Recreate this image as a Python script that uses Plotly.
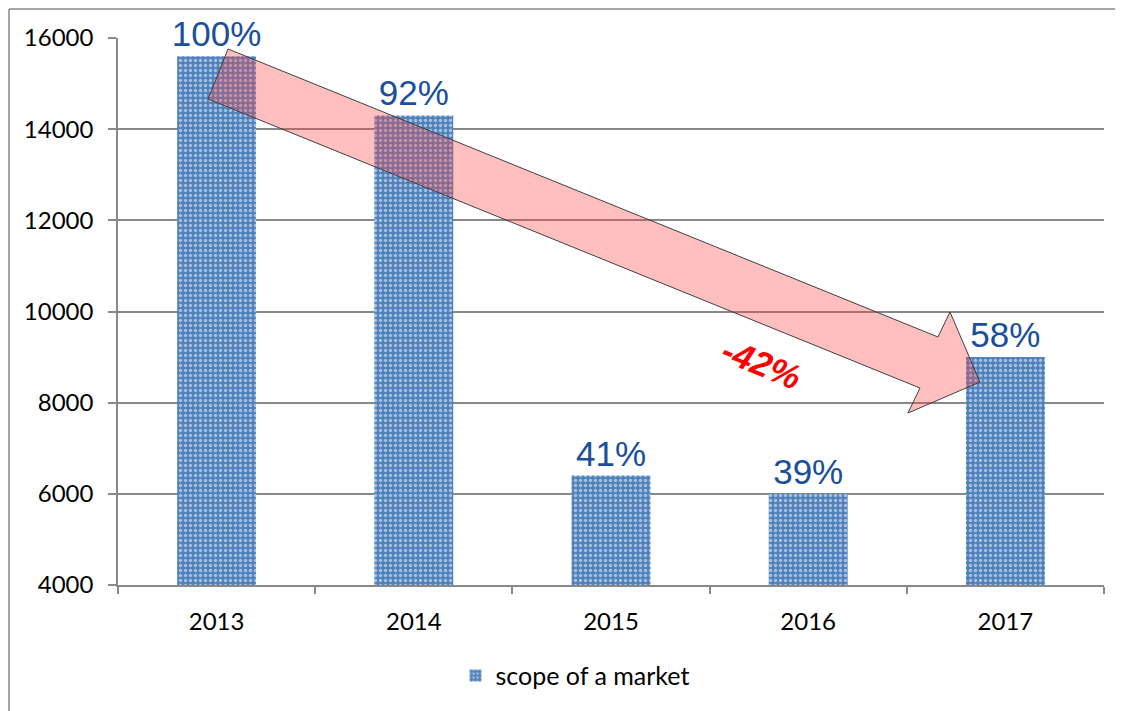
import plotly.graph_objects as go

years = ["2013", "2014", "2015", "2016", "2017"]
values = [15600, 14300, 6400, 6000, 9000]
shares = ["100%", "92%", "41%", "39%", "58%"]
series_name = "scope of a market"
change_label = "-42%"

fig = go.Figure()
fig.add_trace(go.Bar(
    x=years, y=values, name=series_name,
    text=shares, textposition="outside", cliponaxis=False, constraintext="none",
    textfont=dict(family="Liberation Sans, Arial", size=35, color="#1A4F9C"),
    width=0.40,
    marker=dict(color="#4F81BD", line=dict(width=0),
                pattern=dict(shape=".", bgcolor="#4F81BD", fgcolor="white", size=5, solidity=0.35)),
    showlegend=True,
))

# big translucent arrow (paper coordinates)
arrow = [(0.1116, 0.9799), (0.8316, 0.4534), (0.8438, 0.4991), (0.8742, 0.3711),
         (0.8012, 0.3144), (0.8134, 0.3601), (0.0913, 0.8885)]
path = "M " + " L ".join(f"{x},{y}" for x, y in arrow) + " Z"
fig.add_shape(type="path", path=path, xref="paper", yref="paper",
              fillcolor="rgba(255,60,60,0.33)", line=dict(color="#404040", width=1), layer="above")

fig.add_annotation(text=f"<b><i>{change_label}</i></b>", x=(762 - 118) / 986, y=(585 - 363) / 547,
                   xref="paper", yref="paper", showarrow=False, textangle=22,
                   font=dict(family="Liberation Sans, Arial", size=35, color="#FF0000"))

# outer frame (left and top edges of the chart area)
fx = (1 - 110) / 986
fy = 1 + (30 - 1) / 547
fig.add_shape(type="line", xref="paper", yref="paper", x0=fx, x1=fx, y0=fy, y1=-0.4,
              line=dict(color="#888888", width=1.5))
fig.add_shape(type="line", xref="paper", yref="paper", x0=fx, x1=1.1, y0=fy, y1=fy,
              line=dict(color="#888888", width=1.5))

fig.update_layout(
    width=1123, height=711,
    margin=dict(l=110, r=27, t=30, b=134, autoexpand=False),
    paper_bgcolor="white", plot_bgcolor="white",
    font=dict(family="Lato, Carlito, Calibri", size=24, color="black"),
    bargap=0.6,
    legend=dict(orientation="h", x=0.4635, xanchor="center", y=-0.166, yanchor="middle",
                font=dict(size=25), itemwidth=30),
    xaxis=dict(type="category", showline=True, linecolor="#888888", linewidth=1.5,
               ticks="outside", tickson="boundaries", ticklen=7, tickcolor="#888888",
               tickwidth=1.5, showgrid=False, tickfont=dict(size=24), automargin=False,
               ticklabelstandoff=14),
    yaxis=dict(range=[4000, 16000], dtick=2000, tickformat="d", showline=True,
               linecolor="#888888", linewidth=1.5,
               ticks="outside", ticklen=8, tickcolor="#888888", tickwidth=1.5,
               showgrid=True, gridcolor="#888888", gridwidth=1.5, zeroline=False,
               tickfont=dict(size=24), ticklabelstandoff=10, automargin=False),
)

fig.write_html("out.html")
